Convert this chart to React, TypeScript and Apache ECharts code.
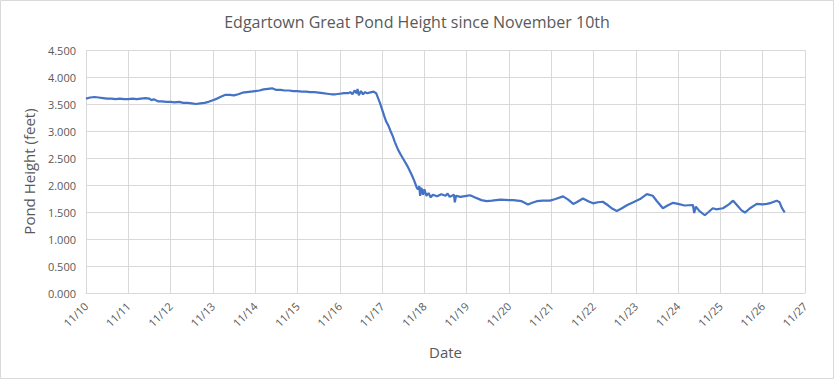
import React, { useEffect, useRef } from "react";
import * as echarts from "echarts";

const days: number[] = [
  0, 0.1, 0.2, 0.3, 0.4, 0.5, 0.6, 0.7, 0.8, 0.9, 1.0,
  1.1, 1.2, 1.3, 1.4, 1.5, 1.55, 1.6, 1.7, 1.8, 1.9, 2.0,
  2.1, 2.2, 2.3, 2.4, 2.5, 2.6, 2.7, 2.8, 2.9, 3.0,
  3.1, 3.2, 3.3, 3.4, 3.5, 3.6, 3.7, 3.8, 3.9, 4.0,
  4.1, 4.2, 4.3, 4.4, 4.5, 4.6, 4.7, 4.8, 4.9, 5.0,
  5.1, 5.2, 5.3, 5.4, 5.5, 5.6, 5.7, 5.8, 5.9, 6.0,
  6.1, 6.2, 6.25, 6.3, 6.35, 6.4, 6.42, 6.45, 6.5, 6.55, 6.6, 6.65, 6.7, 6.8, 6.86,
  6.95, 7.0, 7.05, 7.1, 7.15, 7.2, 7.26, 7.3, 7.38, 7.45, 7.54, 7.6, 7.7, 7.75, 7.78,
  7.82, 7.85, 7.88, 7.9, 7.93, 7.97, 8.0, 8.05, 8.1, 8.15, 8.2, 8.3, 8.4, 8.5, 8.55,
  8.6, 8.7, 8.72, 8.75, 8.85, 9.0, 9.08, 9.2, 9.35, 9.47, 9.6, 9.8, 10.0, 10.1, 10.3,
  10.45, 10.55, 10.66, 10.8, 10.97, 11.1, 11.28, 11.4, 11.52, 11.6, 11.75, 11.9, 11.99,
  12.1, 12.22, 12.35, 12.45, 12.55, 12.65, 12.8, 12.94, 13.1, 13.26, 13.4, 13.5, 13.64,
  13.75, 13.88, 14.0, 14.15, 14.35, 14.38, 14.42, 14.5, 14.63, 14.72, 14.82, 14.9,
  15.06, 15.2, 15.3, 15.4, 15.5, 15.58, 15.7, 15.86, 16.0, 16.1, 16.2, 16.33, 16.4,
  16.45, 16.52,
];

const heights: number[] = [
  3.6, 3.62, 3.63, 3.62, 3.61, 3.6, 3.6, 3.59, 3.6, 3.59, 3.59,
  3.6, 3.59, 3.6, 3.61, 3.6, 3.57, 3.59, 3.55, 3.55, 3.54, 3.54,
  3.53, 3.54, 3.52, 3.52, 3.51, 3.5, 3.51, 3.52, 3.54, 3.57,
  3.6, 3.64, 3.67, 3.67, 3.66, 3.68, 3.71, 3.72, 3.73, 3.74,
  3.75, 3.77, 3.78, 3.79, 3.76, 3.76, 3.75, 3.75, 3.74, 3.74,
  3.73, 3.73, 3.72, 3.72, 3.71, 3.7, 3.69, 3.68, 3.68, 3.69,
  3.7, 3.7, 3.72, 3.68, 3.75, 3.7, 3.78, 3.66, 3.74, 3.68, 3.72, 3.7, 3.71, 3.73, 3.7,
  3.52, 3.4, 3.28, 3.17, 3.1, 3.0, 2.89, 2.8, 2.65, 2.55, 2.43, 2.35, 2.19, 2.1, 2.04,
  1.95, 1.92, 1.98, 1.8, 1.95, 1.82, 1.92, 1.8, 1.85, 1.77, 1.82, 1.79, 1.83, 1.8, 1.84,
  1.78, 1.82, 1.68, 1.8, 1.78, 1.8, 1.81, 1.77, 1.72, 1.7, 1.71, 1.73, 1.72, 1.72, 1.7,
  1.64, 1.67, 1.7, 1.71, 1.71, 1.74, 1.79, 1.73, 1.65, 1.68, 1.75, 1.69, 1.66,
  1.68, 1.69, 1.62, 1.56, 1.52, 1.56, 1.63, 1.68, 1.74, 1.83, 1.8, 1.7, 1.57,
  1.62, 1.67, 1.65, 1.62, 1.63, 1.48, 1.6, 1.52, 1.44, 1.5, 1.57, 1.55,
  1.57, 1.64, 1.71, 1.62, 1.53, 1.49, 1.57, 1.65, 1.64, 1.65, 1.67, 1.71, 1.68,
  1.58, 1.49,
];

const yTicks: string[] = ["0.000", "0.500", "1.000", "1.500", "2.000", "2.500", "3.000", "3.500", "4.000", "4.500"];
const startDay = 10;
const monthPrefix = "11/";

export default function App() {
  const ref = useRef<HTMLDivElement>(null);
  useEffect(() => {
    document.body.style.margin = "0";
    const chart = echarts.init(ref.current!, null, { renderer: "svg" });
    const font = "'Open Sans', 'Noto Sans', sans-serif";
    const gridColor = "#d9d9d9";
    const textColor = "#595959";
    chart.setOption({
      animation: false,
      backgroundColor: "#ffffff",
      title: {
        text: "Edgartown Great Pond Height since November 10th",
        left: "center",
        top: 9,
        textStyle: { fontFamily: font, fontSize: 16, fontWeight: "normal", color: textColor },
      },
      grid: { left: 86, right: 29, top: 50, bottom: 86 },
      graphic: [
        {
          type: "rect",
          shape: { x: 0.5, y: 0.5, width: 833, height: 378 },
          style: { fill: "none", stroke: gridColor, lineWidth: 1 },
          silent: true,
        },
      ],
      xAxis: {
        type: "value",
        min: 0,
        max: 17,
        interval: 1,
        name: "Date",
        nameLocation: "middle",
        nameGap: 51,
        nameTextStyle: { fontFamily: font, fontSize: 15, color: textColor },
        axisLine: { show: true, lineStyle: { color: gridColor } },
        axisTick: { show: false },
        splitLine: { show: true, lineStyle: { color: gridColor } },
        axisLabel: {
          rotate: 45,
          fontFamily: font,
          fontSize: 11,
          color: textColor,
          margin: 11,
          formatter: (v: number) => monthPrefix + String(startDay + v),
        },
      },
      yAxis: {
        type: "value",
        min: 0,
        max: 4.5,
        interval: 0.5,
        name: "Pond Height (feet)",
        nameLocation: "middle",
        nameGap: 50,
        nameTextStyle: { fontFamily: font, fontSize: 15, color: textColor },
        axisLine: { show: false },
        axisTick: { show: false },
        splitLine: { show: true, lineStyle: { color: gridColor } },
        axisLabel: {
          fontFamily: font,
          fontSize: 11,
          color: textColor,
          margin: 10,
          formatter: (v: number) => yTicks[Math.round(v / 0.5)] ?? v.toFixed(3),
        },
      },
      series: [
        {
          type: "line",
          data: days.map((d, i) => [d, heights[i]]),
          showSymbol: false,
          symbol: "none",
          lineStyle: { color: "#4472C4", width: 2.2 },
        },
      ],
    });
    return () => chart.dispose();
  }, []);
  return <div ref={ref} style={{ width: 834, height: 379 }} />;
}
